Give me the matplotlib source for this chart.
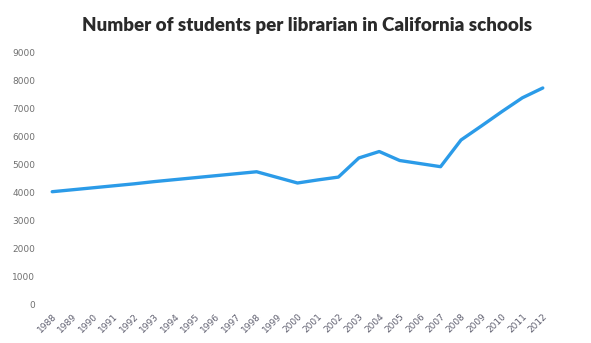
import matplotlib
matplotlib.use("Agg")
import matplotlib.pyplot as plt

# values
years = [str(y) for y in range(1988, 2013)]
students_per_librarian = [
    4030, 4100, 4170, 4240, 4310, 4390, 4460, 4530, 4600, 4670,
    4740, 4540, 4340, 4450, 4550, 5230, 5460, 5140, 5030, 4920,
    5870, 6370, 6880, 7370, 7720,
]
y_ticks = [0, 1000, 2000, 3000, 4000, 5000, 6000, 7000, 8000, 9000]

W, H = 591, 343
fig = plt.figure(figsize=(W / 100, H / 100), dpi=100, facecolor="white")
ax = fig.add_axes([42 / W, 1 - 305 / H, (553 - 42) / W, (305 - 52) / H])

x = range(len(years))
ax.plot(x, students_per_librarian, color="#2b9be8", linewidth=2.4,
        solid_capstyle="round", solid_joinstyle="round")

ax.set_xlim(-0.5, len(years) - 0.5)
ax.set_ylim(0, 9000)
ax.set_yticks(y_ticks)
ax.set_yticklabels([str(v) for v in y_ticks], fontsize=6.5, color="#707070")
ax.set_xticks(list(x))
ax.set_xticklabels(years, rotation=45, ha="right", rotation_mode="anchor",
                   fontsize=6.5, color="#606070")
ax.tick_params(length=0, pad=5)
for s in ax.spines.values():
    s.set_visible(False)

fig.text(307 / W, 1 - 25 / H, "Number of students per librarian in California schools",
         ha="center", va="center", fontsize=13.5, fontweight="heavy",
         family="Lato", color="#2a2a2a")

fig.savefig("out.png", dpi=100, facecolor="white")
